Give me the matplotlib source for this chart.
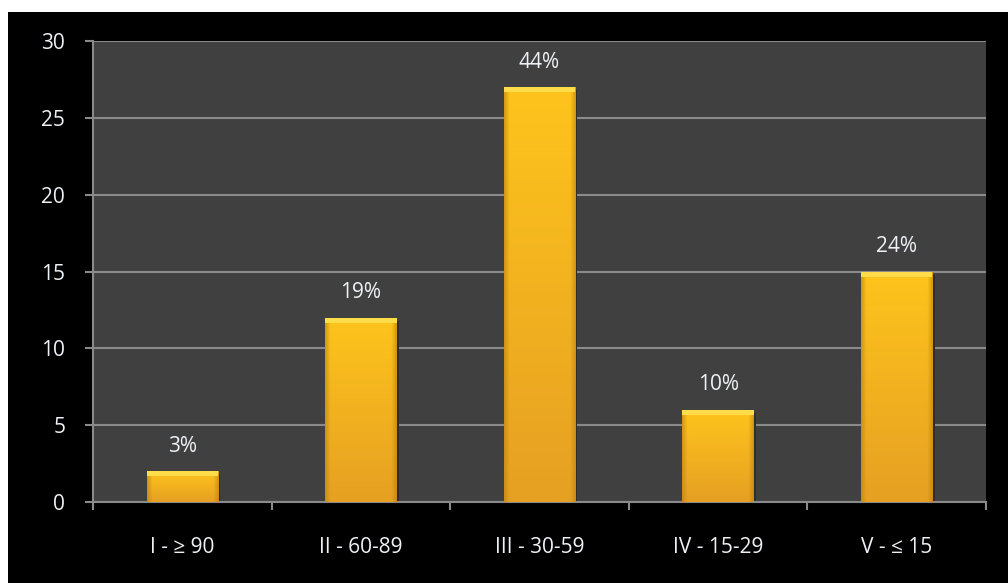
import matplotlib.pyplot as plt
import numpy as np
from matplotlib.patches import Rectangle
from matplotlib.colors import to_rgb

plt.rcParams['font.family'] = ['Open Sans', 'DejaVu Sans']

categories = ['I - ≥ 90', 'II - 60-89', 'III - 30-59', 'IV - 15-29', 'V - ≤ 15']
counts = [2, 12, 27, 6, 15]
pct_labels = ['3%', '19%', '44%', '10%', '24%']

fig = plt.figure(figsize=(10.08, 5.83), dpi=100, facecolor='white')
# black panel behind the chart
fig.patches.append(Rectangle((8 / 1008, 0), 1 - 8 / 1008, 1 - 12 / 583,
                             transform=fig.transFigure, facecolor='black',
                             edgecolor='none', zorder=-10))

ax = fig.add_axes([93 / 1008, 81 / 583, 893 / 1008, 461 / 583])
ax.set_facecolor('#404040')

x = np.arange(len(categories))
bars = ax.bar(x, counts, width=0.4, color='#F2B21E', edgecolor='none', zorder=3)

# fill: yellow at the top fading to orange at the bottom, darker side edges
top_c = np.array(to_rgb('#FEC41C'))
bot_c = np.array(to_rgb('#E6A023'))
edge_c = np.array(to_rgb('#B9800E'))
for b in bars:
    bx, by = b.get_x(), b.get_y()
    w, h = b.get_width(), b.get_height()
    ny, nx = 100, 60
    t = np.linspace(1, 0, ny)[:, None, None]
    img = bot_c * (1 - t) + top_c * t
    img = np.repeat(img, nx, axis=1)
    u = np.linspace(0, 1, nx)
    side = np.clip(1 - np.minimum(u, 1 - u) / 0.07, 0, 1)[None, :, None]
    img = img * (1 - side * 0.6) + edge_c * side * 0.6
    # soft shadow to the right of the bar
    ax.add_patch(Rectangle((bx + w, by), 0.012, h - 0.2, facecolor='#2E2E2E',
                           edgecolor='none', zorder=2))
    im = ax.imshow(img, extent=(bx, bx + w, by, by + h), aspect='auto',
                   zorder=4, interpolation='bilinear')
    im.set_clip_path(b)
    # light bevel at the top
    ax.add_patch(Rectangle((bx, by + h - 0.33), w, 0.33, facecolor='#FFDC4A',
                           edgecolor='none', zorder=5))

for xi, c, lab in zip(x, counts, pct_labels):
    ax.text(xi, c + 0.95, lab, ha='center', va='bottom', fontsize=15,
            color='#EEF2F6', zorder=6)

ax.set_xlim(-0.5, len(categories) - 0.5)
ax.set_ylim(0, 30)
ax.set_yticks(range(0, 31, 5))
ax.yaxis.grid(True, color='#8A8A8A', linewidth=1.5, zorder=1)
ax.set_axisbelow(True)

ax.set_xticks(x)
ax.set_xticklabels(categories)
ax.set_xticks(np.arange(-0.5, len(categories)), minor=True)
ax.tick_params(axis='x', which='major', length=0, pad=25, labelsize=15,
               labelcolor='#EEF2F6')
ax.tick_params(axis='x', which='minor', length=6, color='#8A8A8A', width=1.5)
ax.tick_params(axis='y', length=6, color='#8A8A8A', width=1.5, labelsize=15,
               labelcolor='#EEF2F6', pad=14)

for side in ['top', 'right']:
    ax.spines[side].set_visible(False)
ax.spines['left'].set_color('#8A8A8A')
ax.spines['left'].set_linewidth(1.5)
ax.spines['bottom'].set_color('#8A8A8A')
ax.spines['bottom'].set_linewidth(1.5)

fig.savefig('out.png', dpi=100, facecolor='white')
